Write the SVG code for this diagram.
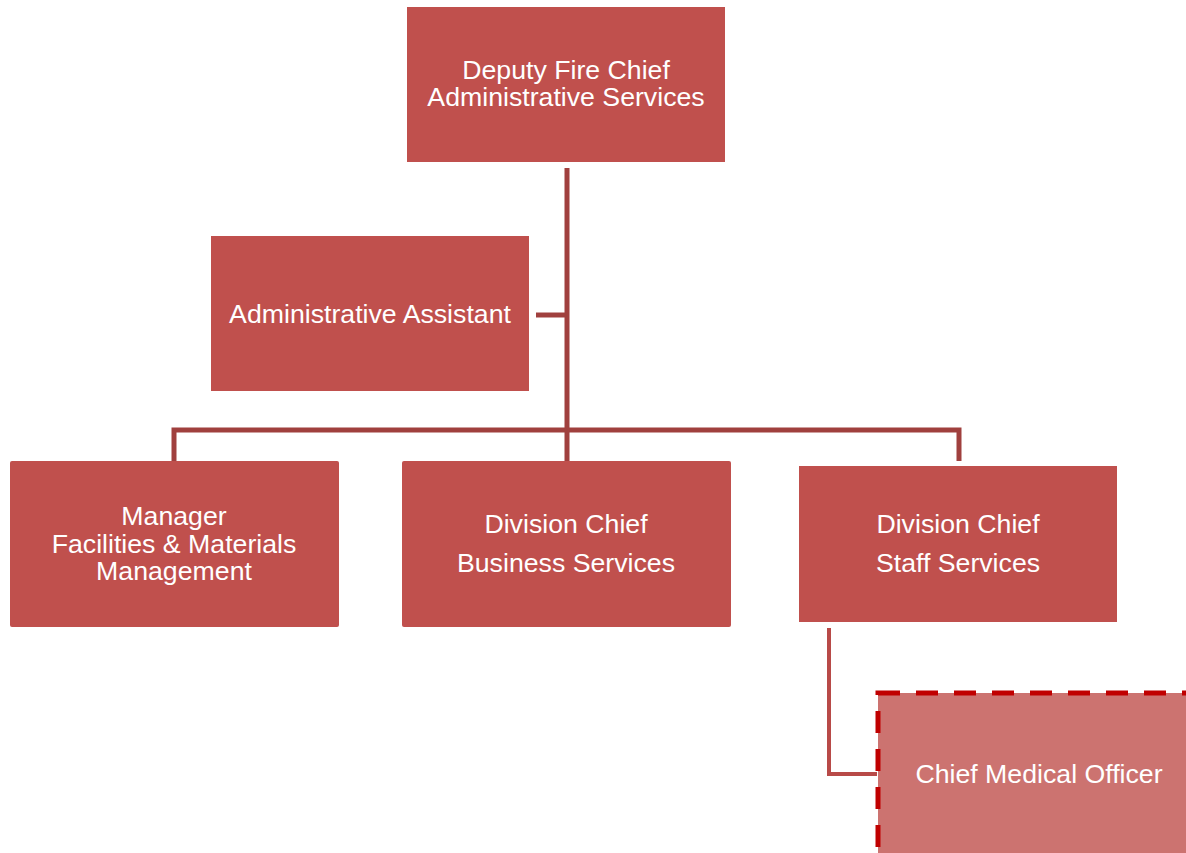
<svg xmlns="http://www.w3.org/2000/svg" width="1186" height="853" viewBox="0 0 1186 853">
  <style>
    .box { fill: #C0504D; }
    .lbl { font-family: "Liberation Sans", Arial, sans-serif; font-size: 26.7px; fill: #FFFFFF; text-anchor: middle; }
    .conn { fill: none; stroke: #A0403E; stroke-width: 5; }
    .conn2 { fill: none; stroke: #B84A48; stroke-width: 4; }
    .dashed { fill: #CC7370; stroke: #C00000; stroke-width: 5; stroke-dasharray: 22 16; }
  </style>
  <rect width="1186" height="853" fill="#FFFFFF"/>

  <g id="connectors">
    <path class="conn" d="M567 168 V461"/>
    <path class="conn" d="M536 315 H567"/>
    <path class="conn" d="M174 461 V430 H959 V461"/>
    <path class="conn2" d="M829 628 V774 H877"/>
  </g>

  <g id="deputy">
    <rect class="box" x="407" y="7" width="318" height="155"/>
    <text class="lbl" x="566" y="79">Deputy Fire Chief</text>
    <text class="lbl" x="566" y="106">Administrative Services</text>
  </g>

  <g id="assistant">
    <rect class="box" x="211" y="236" width="318" height="155"/>
    <text class="lbl" x="370" y="323">Administrative Assistant</text>
  </g>

  <g id="facilities">
    <rect class="box" x="10" y="461" width="329" height="166" rx="2"/>
    <text class="lbl" x="174" y="525">Manager</text>
    <text class="lbl" x="174" y="553">Facilities &amp; Materials</text>
    <text class="lbl" x="174" y="580">Management</text>
  </g>

  <g id="business">
    <rect class="box" x="402" y="461" width="329" height="166" rx="2"/>
    <text class="lbl" x="566" y="533">Division Chief</text>
    <text class="lbl" x="566" y="572">Business Services</text>
  </g>

  <g id="staff">
    <rect class="box" x="799" y="466" width="318" height="156"/>
    <text class="lbl" x="958" y="533">Division Chief</text>
    <text class="lbl" x="958" y="572">Staff Services</text>
  </g>

  <g id="medical">
    <rect class="dashed" x="878" y="693" width="320" height="175"/>
    <text class="lbl" x="1039" y="783">Chief Medical Officer</text>
  </g>
</svg>
